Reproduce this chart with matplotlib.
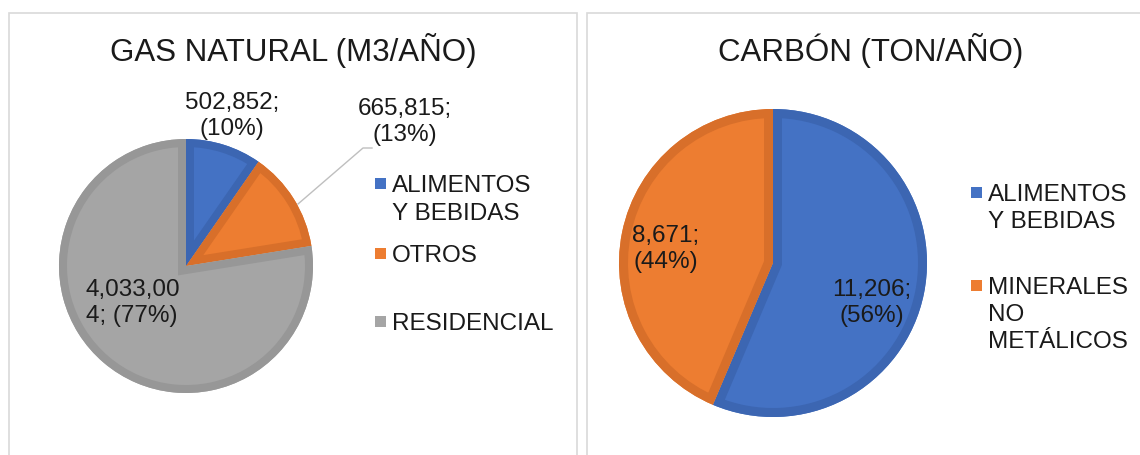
import matplotlib
matplotlib.use("Agg")
import matplotlib.pyplot as plt
from matplotlib.patches import Rectangle, PathPatch
import numpy as np

plt.rcParams['font.family'] = ['Liberation Sans', 'DejaVu Sans']

# ---- data ----
gas_title = "GAS NATURAL (M3/AÑO)"
gas_categories = ["ALIMENTOS\nY BEBIDAS", "OTROS", "RESIDENCIAL"]
gas_values = [502852, 665815, 4033004]
gas_pct_labels = ["10%", "13%", "77%"]

coal_title = "CARBÓN (TON/AÑO)"
coal_categories = ["ALIMENTOS\nY BEBIDAS", "MINERALES\nNO\nMETÁLICOS"]
coal_values = [11206, 8671]
coal_pct_labels = ["56%", "44%"]

gas_colors = ["#4472C4", "#ED7D31", "#A5A5A5"]
gas_edges = ["#3C66B2", "#D86F2A", "#979797"]
coal_colors = ["#4472C4", "#ED7D31"]
coal_edges = ["#3C66B2", "#D86F2A"]

W, H = 1140, 455
fig = plt.figure(figsize=(W / 100, H / 100), dpi=100)
fig.patch.set_facecolor("white")

def fx(x):
    return x / W

def fy(y):
    return 1 - y / H

TXT = "#1a1a1a"
title_fs = 22.5
lab_fs = 17.5
leg_fs = 17.5

# panel borders
fig.patches.append(Rectangle((fx(9), fy(470)), fx(577) - fx(9), fy(13) - fy(470),
                             transform=fig.transFigure, fill=False,
                             edgecolor="#D9D9D9", linewidth=1.2))
fig.patches.append(Rectangle((fx(587), fy(470)), fx(1160) - fx(587), fy(13) - fy(470),
                             transform=fig.transFigure, fill=False,
                             edgecolor="#D9D9D9", linewidth=1.2))

def fmt(v):
    return f"{v:,}"

def lines(text, x, baseline, spacing, ha="center", fs=lab_fs):
    for i, ln in enumerate(text.split("\n")):
        fig.text(fx(x), fy(baseline + i * spacing), ln, ha=ha, va="baseline",
                 fontsize=fs, color=TXT)

def draw_pie(cx, cy, r, values, colors, edges, border_px):
    ax = fig.add_axes([fx(cx - r), fy(cy + r), 2 * r / W, 2 * r / H])
    wedges, _ = ax.pie(values, colors=colors, startangle=90, counterclock=False,
                       radius=1.0, wedgeprops=dict(linewidth=0))
    lw = 2 * border_px * 72 / 100
    for w, ec in zip(wedges, edges):
        p = PathPatch(w.get_path(), transform=w.get_transform(), facecolor="none",
                      edgecolor=ec, linewidth=lw, joinstyle="miter")
        ax.add_patch(p)
        p.set_clip_path(w)
    ax.set_xlim(-1, 1)
    ax.set_ylim(-1, 1)
    ax.set_aspect("auto")
    ax.axis("off")
    return ax, wedges

def legend(cats, colors, x_sq, x_txt, baselines, spacing):
    for lab, col, b in zip(cats, colors, baselines):
        fig.patches.append(Rectangle((fx(x_sq), fy(b - 3)), 11 / W, 11 / H,
                                     transform=fig.transFigure, facecolor=col,
                                     edgecolor="none"))
        lines(lab, x_txt, b, spacing, ha="left", fs=leg_fs)

# ---- left pie ----
axL, wL = draw_pie(186, 266, 127, gas_values, gas_colors, gas_edges, 8)
fig.text(fx(293), fy(50), gas_title, ha="center", va="center", fontsize=title_fs, color=TXT)

lines(f"{fmt(gas_values[0])};\n({gas_pct_labels[0]})", 232, 109, 26)
lines(f"{fmt(gas_values[1])};\n({gas_pct_labels[1]})", 405, 115, 26)
v = fmt(gas_values[2])
lines(f"{v[:8]}\n{v[8:]}; ({gas_pct_labels[2]})", 86, 296, 26, ha="left")
# leader line for OTROS
fig.add_artist(plt.Line2D([fx(298), fx(363), fx(372)], [fy(204), fy(148), fy(148)],
                          transform=fig.transFigure, color="#BFBFBF", linewidth=1.0))

legend(gas_categories, gas_colors, 375, 392, [192, 262, 330], 28)

# ---- right pie ----
axR, wR = draw_pie(773, 263, 154, coal_values, coal_colors, coal_edges, 9)
fig.text(fx(871), fy(50), coal_title, ha="center", va="center", fontsize=title_fs, color=TXT)
lines(f"{fmt(coal_values[0])};\n({coal_pct_labels[0]})", 872, 296, 26)
lines(f"{fmt(coal_values[1])};\n({coal_pct_labels[1]})", 666, 242, 26)

legend(coal_categories, coal_colors, 971, 988, [201, 294], 27)

fig.savefig("out.png", dpi=100, facecolor="white")
